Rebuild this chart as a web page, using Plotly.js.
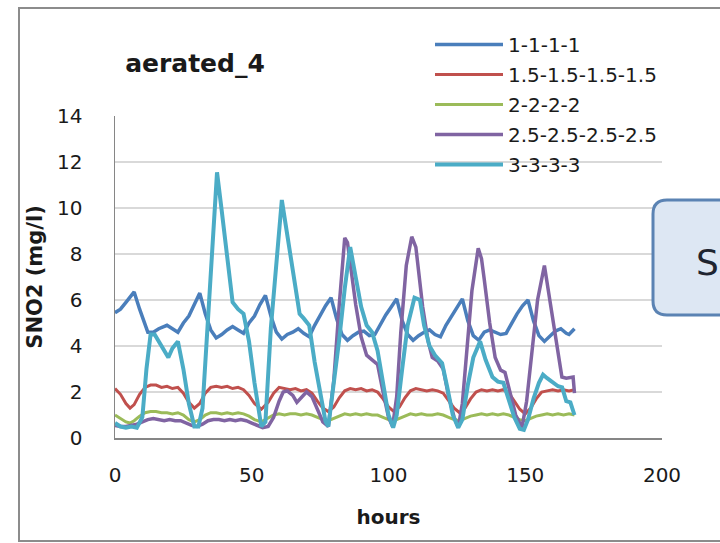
<!DOCTYPE html>
<html><head><meta charset="utf-8">
<script src="https://cdn.plot.ly/plotly-3.0.1.min.js"></script>
<style>html,body{margin:0;padding:0;background:#fff;} #chart{width:720px;height:543px;}</style>
</head><body><div id="chart"></div>
<script>
// ---- data ----
const seriesNames = ['1-1-1-1', '1.5-1.5-1.5-1.5', '2-2-2-2', '2.5-2.5-2.5-2.5', '3-3-3-3'];

const hours1 = [0,2,4,7,9,12,14,16,19,21,23,25,27,29,31,33,35,37,39,41,43,45,47,49,51,53,55,57,59,61,63,65,67,69,71,73,75,77,79,81,83,85,87,89,91,93,95,97,99,101,103,105,107,109,111,113,115,117,119,121,123,125,127,129,131,133,135,137,139,141,143,145,147,149,151,153,155,157,159,161,163,165,166,168];
const sno2_1 = [5.45,5.6,5.9,6.35,5.6,4.6,4.6,4.75,4.9,4.75,4.6,5.0,5.3,5.8,6.3,5.4,4.7,4.35,4.5,4.7,4.85,4.7,4.55,5.0,5.3,5.8,6.2,5.3,4.6,4.3,4.5,4.6,4.75,4.55,4.4,4.9,5.35,5.75,6.1,5.2,4.5,4.25,4.45,4.6,4.65,4.45,4.5,4.95,5.35,5.7,6.05,5.1,4.5,4.25,4.45,4.6,4.7,4.5,4.4,4.9,5.3,5.7,6.05,5.1,4.45,4.25,4.6,4.7,4.6,4.5,4.55,5.0,5.4,5.75,6.0,5.1,4.45,4.2,4.45,4.65,4.75,4.55,4.5,4.75];

const hours2 = [0,2,4,5.5,7,9,11,13,15,17,19,21,23,25,27,29,31,33,35,37,39,41,43,45,47,49,51,53.5,56,58,60,62,64,66,68,70,72,74,76,78,80,82,84,86,88,90,92,94,96,98,100,102,104,106,108,110,112,114,116,118,120,122,124,126,128,130,132,134,136,138,140,142,144,146,148,150,152,154,156,158,160,162,164,166,168];
const sno2_2 = [2.15,1.9,1.5,1.3,1.45,1.9,2.2,2.3,2.3,2.2,2.25,2.15,2.2,1.95,1.55,1.3,1.5,1.95,2.2,2.25,2.2,2.25,2.15,2.2,2.1,1.85,1.5,1.25,1.55,1.95,2.2,2.15,2.1,2.15,2.05,2.1,1.95,1.6,1.3,1.15,1.35,1.75,2.05,2.15,2.1,2.15,2.05,2.1,2.0,1.7,1.35,1.15,1.35,1.75,2.05,2.15,2.1,2.05,2.1,2.05,1.95,1.6,1.3,1.1,1.3,1.7,2.0,2.1,2.05,2.1,2.05,2.1,1.95,1.6,1.25,1.05,1.3,1.7,2.0,2.05,2.1,2.05,2.1,2.05,2.1];

const hours3 = [0,2,4,5.5,7,9,11,13,15,17,19,21,23,25,27,29,31,33,35,37,39,41,43,45,47,49,51,53.5,56,58,60,62,64,66,68,70,72,74,76,78,80,82,84,86,88,90,92,94,96,98,100,102,104,106,108,110,112,114,116,118,120,122,124,126,128,130,132,134,136,138,140,142,144,146,148,150,152,154,156,158,160,162,164,166,168];
const sno2_3 = [1.0,0.85,0.7,0.65,0.75,0.95,1.1,1.15,1.15,1.1,1.1,1.05,1.1,1.0,0.8,0.7,0.8,1.0,1.1,1.1,1.05,1.1,1.05,1.1,1.05,0.95,0.8,0.7,0.85,1.0,1.05,1.0,1.05,1.05,1.0,1.05,1.0,0.9,0.8,0.75,0.85,0.95,1.05,1.0,1.05,1.0,1.05,1.0,1.0,0.9,0.8,0.75,0.85,0.95,1.05,1.0,1.05,1.0,1.0,1.05,1.0,0.9,0.8,0.75,0.85,0.95,1.0,1.05,1.0,1.05,1.0,1.05,1.0,0.9,0.8,0.75,0.85,0.95,1.0,1.05,1.0,1.05,1.0,1.05,1.0];

const hours4 = [0,2,4,6,8,10,12,14,16,18,20,22,24,26,28,30,32,34,36,38,40,42,44,46,48,50,52,54,56,58,60,61.5,63,65,66.5,68,70,72,74,76,78,80,82,84,85,86,88,90,92,94,96,98,100,101.5,103,104.5,106.5,108.5,110,112.5,114.5,116,118,120,122,124,125.5,127,128.5,130.5,132.8,134,135,137,139,141,142.6,144.5,146.5,148.8,150.5,152.5,154.5,157,159,161.5,163.4,165,167.5,168];
const sno2_4 = [0.55,0.5,0.5,0.55,0.6,0.7,0.8,0.85,0.8,0.75,0.8,0.75,0.75,0.65,0.55,0.5,0.6,0.75,0.8,0.8,0.75,0.8,0.75,0.8,0.75,0.65,0.55,0.45,0.5,0.9,1.6,2.0,2.05,1.85,1.55,1.75,2.0,1.8,1.2,0.7,0.5,2.5,5.8,8.7,8.5,7.6,5.8,4.4,3.6,3.4,3.2,2.0,0.9,0.5,1.8,4.6,7.5,8.75,8.3,5.7,4.2,3.5,3.35,3.0,1.8,0.9,0.45,1.5,3.8,6.4,8.25,7.8,6.9,5.0,3.5,2.95,2.85,2.0,1.0,0.45,1.6,3.8,6.0,7.5,6.0,3.95,2.65,2.6,2.65,1.95];

const hours5 = [0,2,4,6,8,10,11.5,13,14.5,16,18,19.5,21,23,25,27,29,30.5,32,33.5,35,37.3,39,41,43,45,47,49,51,53.5,55,57,59,61,62.5,64,65.5,67.5,69,71,73,75,77,78,80,82,84,86,88,90,92,94,96,98,100,101.7,103,105,107,109.5,111.5,113,115,117,119.6,121.5,123.5,125.5,127,129,131,133.5,135.5,138,140,142,144,146,148,149.5,151,153,155,156.5,158,160,162,163.5,165,166.5,168];
const sno2_5 = [0.65,0.5,0.45,0.5,0.45,0.9,3.0,4.5,4.5,4.2,3.8,3.5,3.9,4.2,3.0,1.5,0.5,0.5,1.3,4.2,7.1,11.55,9.9,7.9,5.9,5.6,5.4,4.2,2.4,0.5,0.7,4.8,7.6,10.35,9.2,8.1,6.9,5.4,5.2,4.9,3.3,1.9,0.7,0.5,2.3,4.3,6.5,8.3,7.0,5.7,4.9,4.6,3.8,2.3,1.0,0.45,1.0,3.0,4.9,6.1,6.0,4.9,4.0,3.6,3.25,2.2,1.0,0.45,0.8,2.3,3.5,4.2,3.4,2.65,2.45,2.4,1.6,0.9,0.4,0.35,0.8,1.7,2.4,2.75,2.6,2.4,2.25,2.2,1.6,1.55,1.0];

const xTicks = [0, 50, 100, 150, 200];
const yTicks = [0, 2, 4, 6, 8, 10, 12, 14];

// ---- styles ----
const colors = ['#4a7ebb', '#c0504d', '#9bbb59', '#8064a2', '#4bacc6'];
const widths = [3.5, 3, 3, 3.5, 4];
const FONT = 'DejaVu Sans';
const TXT = '#1a1a1a';

const xs = [hours1, hours2, hours3, hours4, hours5];
const ys = [sno2_1, sno2_2, sno2_3, sno2_4, sno2_5];

const traces = seriesNames.map((name, i) => ({
  type: 'scatter', mode: 'lines', name: name,
  x: xs[i], y: ys[i], legendgroup: 'g' + i,
  line: {color: colors[i], width: widths[i]},
  hoverinfo: 'skip'
}));

// pixel helpers for paper coordinates of decorations
const L = 115, R = 58, T = 116, B = 105, W = 720, H = 543;
const pw = W - L - R, ph = H - T - B;
const px = v => (v - L) / pw;
const py = v => (H - B - v) / ph;

const bx0 = px(653), bx1 = px(745), by0 = py(315), by1 = py(200);
const rx = 14 / pw, ry = 14 / ph;
const boxPath = `M ${bx0 + rx},${by1} L ${bx1},${by1} L ${bx1},${by0} L ${bx0 + rx},${by0} Q ${bx0},${by0} ${bx0},${by0 + ry} L ${bx0},${by1 - ry} Q ${bx0},${by1} ${bx0 + rx},${by1} Z`;

const layout = {
  width: W, height: H,
  margin: {l: L, r: R, t: T, b: B, pad: 0},
  paper_bgcolor: '#ffffff', plot_bgcolor: '#ffffff',
  showlegend: true,
  title: {
    text: 'aerated_4',
    font: {family: FONT, size: 25, weight: 'bold', color: TXT},
    x: 195 / W, xref: 'container', xanchor: 'center',
    y: 1 - 63 / H, yref: 'container', yanchor: 'middle'
  },
  xaxis: {
    range: [0, 200], tickvals: xTicks, ticktext: xTicks.map(String),
    showgrid: false, zeroline: false,
    showline: true, linecolor: '#868686', linewidth: 1.5,
    ticks: 'outside', ticklen: 18, tickcolor: 'rgba(0,0,0,0)',
    tickfont: {family: FONT, size: 20, color: TXT},
    title: {text: 'hours', font: {family: FONT, size: 20, weight: 'bold', color: TXT}, standoff: 24},
    fixedrange: true
  },
  yaxis: {
    range: [0, 14], tickvals: yTicks, ticktext: yTicks.map(String),
    showgrid: true, gridcolor: '#d9d9d9', gridwidth: 1.2, zeroline: false,
    showline: true, linecolor: '#868686', linewidth: 1.5,
    ticks: 'outside', ticklen: 27, tickcolor: 'rgba(0,0,0,0)',
    tickfont: {family: FONT, size: 20, color: TXT},
    title: {text: 'SNO2 (mg/l)', font: {family: FONT, size: 21, weight: 'bold', color: TXT}, standoff: 8},
    fixedrange: true
  },
  legend: {
    x: px(430), xanchor: 'left', xref: 'paper',
    y: py(25), yanchor: 'top', yref: 'paper',
    bgcolor: 'rgba(0,0,0,0)', borderwidth: 0,
    font: {family: FONT, size: 20, color: TXT},
    tracegroupgap: 1, itemwidth: 68
  },
  shapes: [
    {type: 'rect', xref: 'paper', yref: 'paper', layer: 'below',
     x0: px(19), x1: px(740), y0: py(541), y1: py(8),
     line: {color: '#8c8c8c', width: 2}, fillcolor: 'rgba(0,0,0,0)'},
    {type: 'path', xref: 'paper', yref: 'paper', layer: 'above',
     path: boxPath, fillcolor: '#dde7f3', line: {color: '#5b83b3', width: 3}}
  ],
  annotations: [
    {text: 'S', xref: 'paper', yref: 'paper', x: px(694), y: py(262),
     xanchor: 'left', yanchor: 'middle', showarrow: false,
     font: {family: FONT, size: 36, color: '#1f2530'}}
  ]
};

Plotly.newPlot('chart', traces, layout, {displayModeBar: false, staticPlot: true});
</script>
</body></html>
